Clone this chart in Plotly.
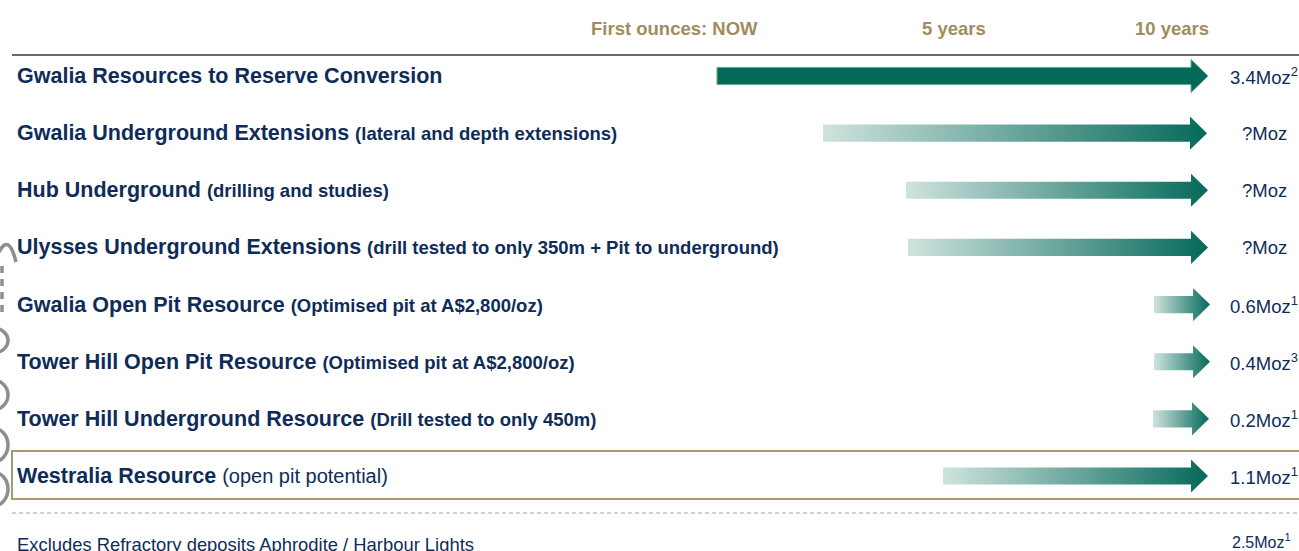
import plotly.graph_objects as go

# ---------------- data ----------------
row_titles = [
    "Gwalia Resources to Reserve Conversion",
    "Gwalia Underground Extensions",
    "Hub Underground",
    "Ulysses Underground Extensions",
    "Gwalia Open Pit Resource",
    "Tower Hill Open Pit Resource",
    "Tower Hill Underground Resource",
    "Westralia Resource",
]
row_notes = [
    "",
    "(lateral and depth extensions)",
    "(drilling and studies)",
    "(drill tested to only 350m + Pit to underground)",
    "(Optimised pit at A$2,800/oz)",
    "(Optimised pit at A$2,800/oz)",
    "(Drill tested to only 450m)",
    "(open pit potential)",
]
note_bold = [True, True, True, True, True, True, True, False]
row_values = ["3.4Moz<sup>2</sup>", "?Moz", "?Moz", "?Moz",
              "0.6Moz<sup>1</sup>", "0.4Moz<sup>3</sup>", "0.2Moz<sup>1</sup>", "1.1Moz<sup>1</sup>"]
# arrow start / end along the timeline axis (timeline units)
arrow_start = [717, 823, 906, 908, 1154, 1154, 1153, 943]
arrow_end = [1208, 1207, 1208, 1208, 1210, 1210, 1209, 1208]
arrow_solid = [True, False, False, False, False, False, False, False]

timeline_labels = ["First ounces: NOW", "5 years", "10 years"]
timeline_pos = [674, 954, 1172]

footer_text = "Excludes Refractory deposits Aphrodite / Harbour Lights"
footer_value = "2.5Moz<sup>1</sup>"

# ---------------- style ----------------
W, H = 1299, 551
NAVY = "#0f2c59"
GOLD = "#9f8d5e"
DARK_GREEN = "#05695a"
LIGHT_GREEN = "#cfe3de"
TITLE_FONT = "Liberation Sans, Arial, sans-serif"
ROW0_PX, ROW_STEP = 76, 57.14
BODY_H, HEAD_H, HEAD_L = 0.15, 0.29, 17


def py(p):
    """pixel row -> paper y"""
    return 1 - p / H


def px(p):
    """pixel column -> paper x"""
    return p / W


fig = go.Figure()

for i, (s, e) in enumerate(zip(arrow_start, arrow_end)):
    hb = e - HEAD_L
    xs = [s, hb, hb, e, hb, hb, s, s]
    ys = [i - BODY_H, i - BODY_H, i - HEAD_H, i, i + HEAD_H, i + BODY_H, i + BODY_H, i - BODY_H]
    if arrow_solid[i]:
        fig.add_trace(go.Scatter(x=xs, y=ys, mode="lines", fill="toself",
                                 fillcolor=DARK_GREEN, line=dict(width=1, color="#6da597"),
                                 hoverinfo="skip", showlegend=False))
    else:
        fig.add_trace(go.Scatter(x=xs, y=ys, mode="lines", fill="toself",
                                 fillgradient=dict(type="horizontal",
                                                   colorscale=[[0, LIGHT_GREEN], [1, DARK_GREEN]]),
                                 line=dict(width=0), hoverinfo="skip", showlegend=False))

annotations = []
for i, (t, n) in enumerate(zip(row_titles, row_notes)):
    txt = f"<span style='font-size:21.5px'><b>{t}</b></span>"
    if n:
        if note_bold[i]:
            txt += f" <span style='font-size:18.5px'><b>{n}</b></span>"
        else:
            txt += f" <span style='font-size:20px'>{n}</span>"
    annotations.append(dict(x=15, y=i, xref="x", yref="y", text=txt, showarrow=False,
                            xanchor="left", yanchor="middle",
                            font=dict(family=TITLE_FONT, color=NAVY, size=21.5)))
    annotations.append(dict(x=1264, y=i, xref="x", yref="y", text=row_values[i], showarrow=False,
                            xanchor="center", yanchor="middle",
                            font=dict(family="Liberation Sans, Arial, sans-serif", color=NAVY, size=18.5)))

for lab, pos in zip(timeline_labels, timeline_pos):
    annotations.append(dict(x=pos, y=py(28), xref="x", yref="paper", text=f"<b>{lab}</b>",
                            showarrow=False, xanchor="center", yanchor="middle",
                            font=dict(family=TITLE_FONT, color=GOLD, size=18.5)))

annotations.append(dict(x=15, y=py(544), xref="x", yref="paper", text=footer_text, showarrow=False,
                        xanchor="left", yanchor="middle",
                        font=dict(family=TITLE_FONT, color=NAVY, size=18.4)))
annotations.append(dict(x=1261, y=py(541), xref="x", yref="paper", text=footer_value, showarrow=False,
                        xanchor="center", yanchor="middle",
                        font=dict(family="Liberation Sans, Arial, sans-serif", color=NAVY, size=16)))

GREY_DECO = "#8e8e8e"
shapes = [
    # top rule
    dict(type="line", xref="paper", yref="paper", x0=px(12), x1=1, y0=py(55), y1=py(55),
         line=dict(color="#3a3a3a", width=1.5)),
    # Westralia box
    dict(type="rect", xref="paper", yref="paper", x0=px(12), x1=1.01, y0=py(499), y1=py(451),
         line=dict(color="#a89a6c", width=2)),
    # dashed separator
    dict(type="line", xref="paper", yref="paper", x0=px(12), x1=1, y0=py(513), y1=py(513),
         line=dict(color="#a3a3a3", width=1, dash="4px,3px")),
    # partially visible decorations on the left edge
    dict(type="path", xref="paper", yref="paper",
         path=f"M {px(-1)},{py(252)} Q {px(9)},{py(233)} {px(16)},{py(262)}",
         line=dict(color=GREY_DECO, width=3.5)),
    dict(type="line", xref="paper", yref="paper", x0=px(2), x1=px(2), y0=py(266), y1=py(318),
         line=dict(color=GREY_DECO, width=3.5, dash="7px,6px")),
]
for c0, c1 in [(328, 353), (380, 410), (428, 462), (472, 506)]:
    shapes.append(dict(type="circle", xref="paper", yref="paper", x0=px(-22), x1=px(8),
                       y0=py(c1), y1=py(c0), line=dict(color=GREY_DECO, width=3.5)))

y_top = -ROW0_PX / ROW_STEP
y_bot = (H - ROW0_PX) / ROW_STEP
fig.update_layout(
    width=W, height=H, margin=dict(l=0, r=0, t=0, b=0),
    paper_bgcolor="white", plot_bgcolor="white",
    xaxis=dict(range=[0, W], visible=False, fixedrange=True),
    yaxis=dict(range=[y_bot, y_top], visible=False, fixedrange=True),
    annotations=annotations, shapes=shapes, showlegend=False,
)

fig.write_html("out.html", post_script="document.body.style.margin='0';",
               config={"displayModeBar": False})
